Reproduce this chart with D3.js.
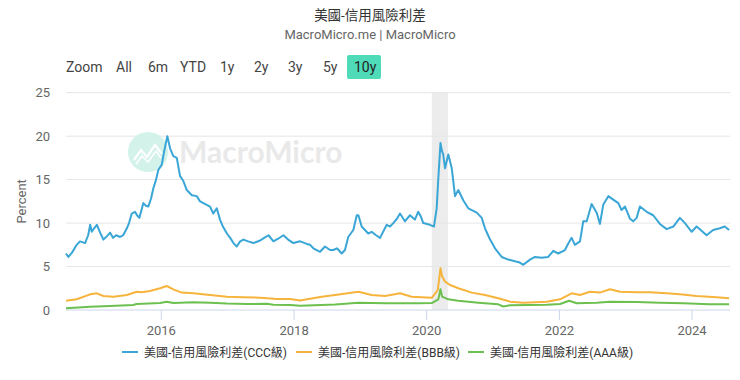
<!DOCTYPE html>
<html><head><meta charset="utf-8">
<script src="https://cdn.jsdelivr.net/npm/d3@7/dist/d3.min.js"></script>
<style>
html,body{margin:0;padding:0;background:#fff;}
svg{display:block;font-family:Roboto,"Noto Sans CJK TC",sans-serif;}
</style></head>
<body><svg id="c" width="740" height="380"></svg>
<script>
const title = "美國-信用風險利差";
const subtitle = "MacroMicro.me | MacroMicro";
const seriesNames = ["美國-信用風險利差(CCC級)", "美國-信用風險利差(BBB級)", "美國-信用風險利差(AAA級)"];
const rangeButtons = ["Zoom", "All", "6m", "YTD", "1y", "2y", "3y", "5y", "10y"];
const yTicks = [0, 5, 10, 15, 20, 25];
const xTickYears = [2016, 2018, 2020, 2022, 2024];
const recession = ["2020-02-01", "2020-04-30"];
const xDomain = ["2014-07-28", "2024-07-31"];

const cccDates = ["2014-07-28","2014-08-10","2014-08-30","2014-09-25","2014-10-13","2014-11-10","2014-11-27","2014-12-08","2014-12-17","2014-12-30",
"2015-01-14","2015-02-01","2015-02-19","2015-03-11","2015-03-28","2015-04-13","2015-04-30","2015-05-22","2015-06-08","2015-06-28",
"2015-07-10","2015-07-25","2015-08-12","2015-08-23","2015-09-05","2015-09-27","2015-10-11","2015-10-24","2015-11-08","2015-11-21",
"2015-12-06","2015-12-18","2016-01-06","2016-01-19","2016-02-06","2016-02-21","2016-03-10","2016-03-29","2016-04-16","2016-05-03",
"2016-05-23","2016-06-20","2016-07-17","2016-08-04","2016-09-10","2016-09-28","2016-10-16","2016-11-04","2016-11-22","2016-12-08",
"2016-12-30","2017-01-17","2017-02-04","2017-02-22","2017-03-13","2017-03-31","2017-04-26","2017-05-25","2017-07-01","2017-07-23",
"2017-08-16","2017-09-12","2017-10-08","2017-11-06","2017-12-02","2017-12-31","2018-02-06","2018-03-15","2018-04-02","2018-04-20",
"2018-05-27","2018-06-23","2018-07-21","2018-08-08","2018-08-28","2018-09-23","2018-10-11","2018-10-29","2018-11-26","2018-12-15",
"2018-12-24","2019-01-11","2019-01-29","2019-02-16","2019-03-07","2019-03-31","2019-04-22","2019-05-29","2019-06-16","2019-07-04",
"2019-07-24","2019-08-10","2019-09-06","2019-10-04","2019-10-31","2019-11-18","2019-12-02","2019-12-16","2020-01-22","2020-02-13",
"2020-02-28","2020-03-09","2020-03-20","2020-03-28","2020-04-04","2020-04-14","2020-05-02","2020-05-21","2020-06-08","2020-06-26",
"2020-07-24","2020-08-20","2020-09-08","2020-10-06","2020-11-02","2020-11-20","2020-12-07","2020-12-18","2021-01-14","2021-02-20",
"2021-03-28","2021-05-04","2021-05-26","2021-06-19","2021-07-26","2021-08-22","2021-09-28","2021-11-03","2021-12-01","2021-12-28",
"2022-02-03","2022-02-20","2022-03-12","2022-03-30","2022-04-27","2022-05-15","2022-06-03","2022-06-30","2022-07-28","2022-08-15",
"2022-09-02","2022-09-30","2022-10-27","2022-11-24","2022-12-12","2022-12-31","2023-01-27","2023-02-14","2023-03-05","2023-03-23",
"2023-04-29","2023-06-04","2023-07-11","2023-08-17","2023-09-23","2023-10-29","2023-11-26","2024-01-02","2024-01-29","2024-02-16",
"2024-03-24","2024-04-29","2024-06-05","2024-07-02","2024-07-26"];
const cccValues = [6.5,6.1,6.6,7.5,7.9,7.7,8.6,9.8,9.0,9.4,
9.8,8.9,8.1,8.5,8.9,8.3,8.6,8.4,8.6,9.4,
10.0,11.1,11.3,10.9,10.6,12.3,12.0,11.9,12.8,14.0,
15.0,16.1,16.7,18.2,20.0,18.6,17.7,17.5,15.4,14.9,
13.8,13.2,13.1,12.5,12.1,11.9,11.1,11.7,10.4,9.6,
8.8,8.3,7.7,7.3,7.9,8.1,7.9,7.7,8.0,8.3,
8.6,7.9,8.2,8.6,8.1,7.7,7.9,7.6,7.5,7.1,
6.7,7.3,6.9,6.9,7.1,6.5,6.9,8.4,9.2,10.9,
10.9,9.6,9.2,8.8,9.0,8.6,8.3,9.8,9.6,10.0,
10.5,11.1,10.2,10.9,10.4,11.3,10.8,10.0,9.8,9.6,
11.7,15.5,19.2,18.3,17.9,16.3,17.9,16.3,13.1,13.8,
12.6,11.7,11.5,11.2,10.6,9.4,8.6,8.1,7.1,6.1,
5.8,5.6,5.5,5.2,5.8,6.1,6.0,6.1,6.8,6.5,
6.9,7.6,8.3,7.5,7.9,10.2,10.2,12.2,11.2,9.9,
12.1,13.1,12.7,12.3,11.5,11.9,10.5,10.2,10.6,11.9,
11.3,10.9,9.9,9.3,9.6,10.6,10.0,9.0,9.6,9.3,
8.6,9.2,9.4,9.6,9.2];

const bbbDates = ["2014-07-28","2014-09-25","2014-12-08","2015-01-14","2015-02-19","2015-04-15","2015-06-28","2015-08-21","2015-09-18","2015-11-02",
"2015-12-28","2016-02-03","2016-03-10","2016-04-25","2016-06-29","2016-09-28","2016-12-30","2017-03-31","2017-07-01","2017-10-01",
"2017-12-13","2018-02-06","2018-06-05","2018-08-18","2018-12-24","2019-03-07","2019-05-20","2019-08-10","2019-10-13","2020-02-01",
"2020-03-05","2020-03-20","2020-03-29","2020-04-14","2020-05-12","2020-06-26","2020-09-08","2020-11-20","2021-02-01","2021-04-07",
"2021-06-19","2021-10-26","2022-01-07","2022-03-12","2022-04-27","2022-06-21","2022-08-15","2022-10-09","2022-12-03","2023-03-05",
"2023-05-17","2023-08-17","2023-10-29","2024-01-29","2024-05-18","2024-07-26"];
const bbbValues = [1.07,1.23,1.80,1.92,1.61,1.53,1.73,2.10,2.03,2.19,
2.50,2.76,2.38,2.00,1.92,1.73,1.53,1.46,1.42,1.27,
1.27,1.10,1.53,1.73,2.10,1.73,1.61,1.92,1.53,1.40,
2.30,4.80,3.84,3.26,2.88,2.50,2.00,1.73,1.35,0.96,
0.84,0.96,1.23,1.92,1.73,2.10,2.00,2.38,2.10,2.03,
2.03,1.92,1.80,1.61,1.46,1.35];

const aaaDates = ["2014-07-28","2014-12-08","2015-03-28","2015-08-01","2015-08-21","2015-12-28","2016-02-03","2016-03-10","2016-06-29","2016-09-28",
"2016-12-30","2017-04-18","2017-08-07","2017-09-12","2017-12-13","2018-02-06","2018-08-18","2018-12-24","2019-05-20","2019-11-16",
"2020-02-01","2020-03-08","2020-03-20","2020-03-29","2020-05-02","2020-06-26","2020-10-14","2021-02-01","2021-03-01","2021-04-07",
"2021-07-26","2021-10-26","2022-01-07","2022-02-26","2022-04-09","2022-07-28","2022-10-09","2023-03-05","2023-07-11","2023-11-16",
"2024-04-11","2024-07-26"];
const aaaValues = [0.20,0.38,0.46,0.58,0.70,0.80,0.96,0.80,0.88,0.84,
0.74,0.69,0.72,0.61,0.58,0.48,0.62,0.84,0.77,0.78,
0.80,1.23,2.38,1.53,1.23,1.07,0.84,0.65,0.40,0.55,
0.58,0.61,0.69,1.07,0.77,0.84,0.96,0.92,0.84,0.77,
0.65,0.65];

const colors = ["#3aa6d6", "#f6b43c", "#6cc04f"];

const parse = d3.timeParse("%Y-%m-%d");
const svg = d3.select("#c");
const M = {left: 66, right: 730, top: 92.7, bottom: 310};

const x = d3.scaleTime().domain(xDomain.map(parse)).range([M.left, M.right]);
const y = d3.scaleLinear().domain([0, 25]).range([M.bottom, M.top]);

// titles
svg.append("text").attr("x", 370).attr("y", 20).attr("text-anchor", "middle")
  .attr("font-size", 13.5).attr("fill", "#333").text(title);
svg.append("text").attr("x", 370).attr("y", 39).attr("text-anchor", "middle")
  .attr("font-size", 13).attr("fill", "#666").text(subtitle);

// range buttons
const btnX = [66, 116, 148, 180, 220, 254, 288, 323, 354];
rangeButtons.forEach((b, i) => {
  if (b === "10y") {
    svg.append("rect").attr("x", 347).attr("y", 55).attr("width", 34).attr("height", 24)
      .attr("rx", 2).attr("fill", "#4fdab8");
  }
  svg.append("text").attr("x", btnX[i]).attr("y", 72).attr("font-size", 14)
    .attr("fill", b === "10y" ? "#222" : "#444").text(b);
});

// recession band
svg.append("rect").attr("x", x(parse(recession[0]))).attr("y", M.top)
  .attr("width", x(parse(recession[1])) - x(parse(recession[0])))
  .attr("height", M.bottom - M.top).attr("fill", "#ececec");

// gridlines
svg.append("g").selectAll("line").data(yTicks).join("line")
  .attr("x1", M.left).attr("x2", M.right)
  .attr("y1", d => y(d)).attr("y2", d => y(d))
  .attr("stroke", d => d === 0 ? "#ccd6eb" : "#e6e6e6").attr("stroke-width", 1);

// y axis labels
const yAxis = d3.axisLeft(y).tickValues(yTicks).tickSize(0).tickPadding(0);
const gy = svg.append("g").attr("transform", `translate(${M.left - 16},0)`).call(yAxis);
gy.select(".domain").remove();
gy.selectAll("text").attr("font-size", 13).attr("fill", "#666").attr("font-family", "Roboto, sans-serif");

svg.append("text").attr("transform", `translate(26,${(M.top + M.bottom) / 2}) rotate(-90)`)
  .attr("text-anchor", "middle").attr("font-size", 13).attr("fill", "#666").text("Percent");

// x axis
const xAxis = d3.axisBottom(x).tickValues(xTickYears.map(yr => new Date(yr, 0, 1)))
  .tickFormat(d3.timeFormat("%Y")).tickSize(10).tickPadding(6);
const gx = svg.append("g").attr("transform", `translate(0,${M.bottom})`).call(xAxis);
gx.select(".domain").remove();
gx.selectAll("line").attr("stroke", "#ccd6eb");
gx.selectAll("text").attr("font-size", 13).attr("fill", "#666").attr("font-family", "Roboto, sans-serif");

// watermark
const wm = svg.append("g");
wm.append("circle").attr("cx", 148).attr("cy", 152).attr("r", 20).attr("fill", "#d3f2ea");
wm.append("path").attr("d", "M134,160 L141,150 L147,157 L155,145 L162,154")
  .attr("fill", "none").attr("stroke", "#fff").attr("stroke-width", 2.2);
wm.append("path").attr("d", "M136,164 L142,156 L148,162 L156,151 L161,158")
  .attr("fill", "none").attr("stroke", "#fff").attr("stroke-width", 1.5);
wm.append("text").attr("x", 179).attr("y", 163).attr("font-size", 30).attr("font-weight", 700)
  .attr("fill", "#e9e9e9").attr("font-family", "Lato, Roboto, sans-serif").text("MacroMicro");

// lines
const line = d3.line().x(d => x(d[0])).y(d => y(d[1]));
const series = [
  d3.zip(cccDates.map(parse), cccValues),
  d3.zip(bbbDates.map(parse), bbbValues),
  d3.zip(aaaDates.map(parse), aaaValues)
];
[2, 1, 0].forEach(i => {
  svg.append("path").datum(series[i]).attr("d", line).attr("fill", "none")
    .attr("stroke", colors[i]).attr("stroke-width", 2).attr("stroke-linejoin", "round");
});

// legend
const legX = [122, 296, 468];
seriesNames.forEach((n, i) => {
  svg.append("line").attr("x1", legX[i]).attr("x2", legX[i] + 16).attr("y1", 352).attr("y2", 352)
    .attr("stroke", colors[i]).attr("stroke-width", 2);
  svg.append("text").attr("x", legX[i] + 22).attr("y", 356.5).attr("font-size", 12)
    .attr("fill", "#333").text(n);
});
</script></body></html>
